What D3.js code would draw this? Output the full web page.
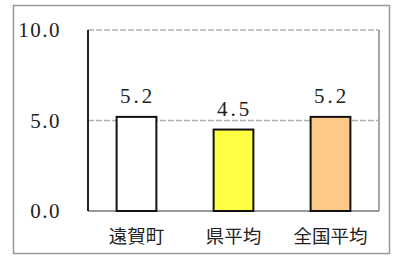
<!DOCTYPE html>
<html><head><meta charset="utf-8">
<script src="https://cdn.jsdelivr.net/npm/d3@7"></script>
<style>body{margin:0;background:#fff}svg{display:block}</style>
</head><body>
<script>
const categories = ["遠賀町", "県平均", "全国平均"];
const values = [5.2, 4.5, 5.2];
const valueLabels = ["5.2", "4.5", "5.2"];
const colors = ["#ffffff", "#ffff44", "#fdc986"];
const yTicks = [0, 5, 10];
const yTickLabels = ["0.0", "5.0", "10.0"];

const W = 394, H = 256;
const m = {left: 88, right: 15, top: 30, bottom: 45};
const svg = d3.select("body").append("svg").attr("width", W).attr("height", H);

// outer frame
svg.append("rect").attr("x", 13.5).attr("y", 5.5).attr("width", 376).attr("height", 248)
  .attr("fill", "none").attr("stroke", "#999").attr("stroke-width", 1.5);

const x = d3.scaleBand().domain(categories).range([m.left, W - m.right]).paddingInner(0.59).paddingOuter(0.295);
const y = d3.scaleLinear().domain([0, 10]).range([H - m.bottom, m.top]);

// plot area border (right, bottom)
svg.append("line").attr("x1", W - m.right).attr("x2", W - m.right).attr("y1", y(10)).attr("y2", y(0))
  .attr("stroke", "#888").attr("stroke-width", 1.5);
svg.append("line").attr("x1", m.left).attr("x2", W - m.right).attr("y1", y(0)).attr("y2", y(0))
  .attr("stroke", "#777").attr("stroke-width", 1.5);

// gridlines
svg.append("g").selectAll("line").data(yTicks.filter(d => d > 0)).join("line")
  .attr("x1", m.left).attr("x2", W - m.right)
  .attr("y1", d => y(d)).attr("y2", d => y(d))
  .attr("stroke", "#b0b0b0").attr("stroke-width", 1.5).attr("stroke-dasharray", "6,2");

// left axis
svg.append("line").attr("x1", m.left).attr("x2", m.left).attr("y1", y(10)).attr("y2", y(0))
  .attr("stroke", "#222").attr("stroke-width", 2);

// y tick labels
svg.append("g").selectAll("text").data(yTicks).join("text")
  .attr("x", 61).attr("y", d => y(d) + 7)
  .attr("text-anchor", "end")
  .attr("font-family", "'Liberation Serif','DejaVu Serif',serif")
  .attr("font-size", 21).attr("letter-spacing", 1.5).attr("fill", "#222")
  .text((d, i) => yTickLabels[i]);

// value labels
svg.append("g").selectAll("text").data(values).join("text")
  .attr("x", (d, i) => x(categories[i]) + x.bandwidth() / 2 + 1)
  .attr("y", d => y(d) - 14)
  .attr("text-anchor", "middle")
  .attr("font-family", "'Liberation Serif','DejaVu Serif',serif")
  .attr("font-size", 21).attr("letter-spacing", 3).attr("fill", "#222")
  .text((d, i) => valueLabels[i]);

// bars
svg.append("g").selectAll("rect").data(values).join("rect")
  .attr("x", (d, i) => x(categories[i]))
  .attr("y", d => y(d))
  .attr("width", x.bandwidth())
  .attr("height", d => y(0) - y(d))
  .attr("fill", (d, i) => colors[i])
  .attr("stroke", "#111").attr("stroke-width", 2);

// category labels
svg.append("g").selectAll("text").data(categories).join("text")
  .attr("x", d => x(d) + x.bandwidth() / 2)
  .attr("y", 243)
  .attr("text-anchor", "middle")
  .attr("font-family", "'Noto Sans CJK JP',sans-serif")
  .attr("font-size", 18.5).attr("fill", "#222")
  .text(d => d);
</script>
</body></html>
